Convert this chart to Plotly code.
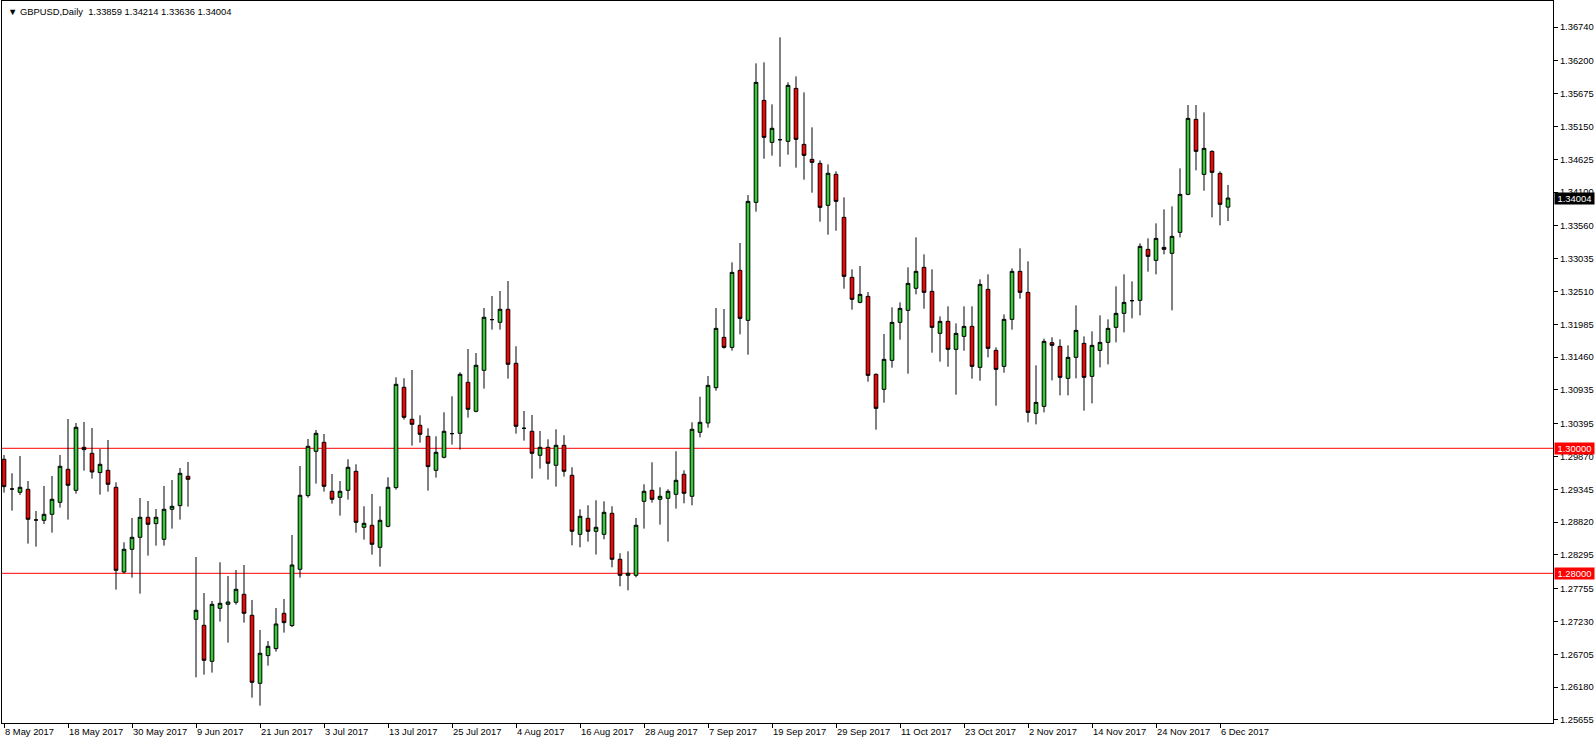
import plotly.graph_objects as go

# ---------------- data (GBPUSD daily, 8 May 2017 - 7 Dec 2017) ----------------
opens = [
    1.29824, 1.29349, 1.29296, 1.29344, 1.28853, 1.28848, 1.28944, 1.29136, 1.29664, 1.29328,
    1.30016, 1.29920, 1.29611, 1.29648, 1.29376, 1.28021, 1.28384, 1.28576, 1.28896, 1.28795,
    1.28544, 1.29024, 1.29083, 1.29552, 1.27264, 1.27168, 1.26592, 1.27440, 1.27504, 1.27536,
    1.27664, 1.27328, 1.26240, 1.26683, 1.26795, 1.27360, 1.27163, 1.28064, 1.29243, 1.29952,
    1.30096, 1.29312, 1.29216, 1.29328, 1.29632, 1.28736, 1.28768, 1.28416, 1.28752, 1.29371,
    1.30976, 1.30464, 1.30368, 1.30192, 1.29648, 1.29856, 1.30235, 1.30240, 1.31056, 1.30592,
    1.31248, 1.32059, 1.32016, 1.32224, 1.31360, 1.30320, 1.30272, 1.29888, 1.30016, 1.29728,
    1.30048, 1.29568, 1.28624, 1.28880, 1.28672, 1.28624, 1.28960, 1.28224, 1.27968, 1.27968,
    1.29152, 1.29328, 1.29184, 1.29200, 1.29264, 1.29584, 1.29232, 1.30256, 1.30405, 1.30970,
    1.31775, 1.31615, 1.32847, 1.32047, 1.33935, 1.35567, 1.34895, 1.34938, 1.34911, 1.35759,
    1.34863, 1.34623, 1.34559, 1.33887, 1.34383, 1.33695, 1.32735, 1.32335, 1.32431, 1.31183,
    1.30943, 1.31407, 1.32015, 1.32207, 1.32560, 1.32895, 1.32511, 1.31839, 1.32031, 1.31583,
    1.31791, 1.31951, 1.31295, 1.32543, 1.31567, 1.31311, 1.32063, 1.32831, 1.32495, 1.30559,
    1.30671, 1.31690, 1.31631, 1.31119, 1.31455, 1.31679, 1.31151, 1.31567, 1.31695, 1.31935,
    1.32159, 1.32362, 1.32367, 1.33183, 1.33007, 1.33215, 1.33119, 1.33455, 1.34063, 1.35263,
    1.34383, 1.34751, 1.34399, 1.33859,
]
highs = [
    1.29893, 1.29600, 1.29877, 1.29477, 1.28997, 1.29397, 1.29557, 1.29893, 1.30469, 1.30405,
    1.30421, 1.30325, 1.29989, 1.30133, 1.29456, 1.28496, 1.28885, 1.29205, 1.29157, 1.29029,
    1.29397, 1.29493, 1.29685, 1.29781, 1.28261, 1.27685, 1.27557, 1.28176, 1.27957, 1.28053,
    1.28133, 1.27573, 1.27093, 1.26917, 1.27445, 1.27590, 1.28613, 1.29717, 1.30149, 1.30293,
    1.30229, 1.29589, 1.29477, 1.29824, 1.29744, 1.29072, 1.29269, 1.29072, 1.29536, 1.31136,
    1.31120, 1.31253, 1.30528, 1.30320, 1.30192, 1.30576, 1.30832, 1.31216, 1.31589, 1.31525,
    1.32245, 1.32437, 1.32517, 1.32677, 1.31632, 1.30597, 1.30533, 1.30277, 1.30144, 1.30304,
    1.30208, 1.29696, 1.29024, 1.29088, 1.29168, 1.29152, 1.29072, 1.28320, 1.28352, 1.28885,
    1.29424, 1.29776, 1.29376, 1.29344, 1.29952, 1.29648, 1.30416, 1.30826, 1.31156, 1.32245,
    1.32229, 1.32975, 1.33285, 1.34052, 1.36159, 1.36175, 1.35503, 1.36575, 1.35855, 1.35951,
    1.35695, 1.35135, 1.34607, 1.34543, 1.34431, 1.34015, 1.32863, 1.32917, 1.32501, 1.31199,
    1.31829, 1.32255, 1.32335, 1.32895, 1.33375, 1.33103, 1.32863, 1.32111, 1.32271, 1.31999,
    1.32271, 1.32271, 1.32703, 1.32783, 1.31615, 1.32143, 1.32879, 1.33199, 1.32991, 1.31327,
    1.31754, 1.31775, 1.31743, 1.31647, 1.32287, 1.31791, 1.31871, 1.32127, 1.32063, 1.32591,
    1.32783, 1.32671, 1.33279, 1.33359, 1.33599, 1.33823, 1.33871, 1.34479, 1.35493, 1.35493,
    1.35375, 1.34767, 1.34431, 1.34214,
]
lows = [
    1.29291, 1.29003, 1.29253, 1.28475, 1.28427, 1.28789, 1.28651, 1.29051, 1.28859, 1.29275,
    1.29643, 1.29515, 1.29259, 1.29307, 1.27739, 1.28000, 1.27931, 1.27675, 1.28283, 1.28443,
    1.28443, 1.28715, 1.28859, 1.29067, 1.26336, 1.26379, 1.26411, 1.27227, 1.26891, 1.27499,
    1.27211, 1.26011, 1.25883, 1.26523, 1.26747, 1.27051, 1.27141, 1.27931, 1.29211, 1.29435,
    1.29307, 1.29115, 1.28923, 1.29179, 1.28651, 1.28539, 1.28299, 1.28107, 1.28736, 1.29339,
    1.30459, 1.30043, 1.30091, 1.29323, 1.29531, 1.29840, 1.30059, 1.29979, 1.30491, 1.30576,
    1.30955, 1.31899, 1.31899, 1.31115, 1.30235, 1.30123, 1.29515, 1.29675, 1.29499, 1.29387,
    1.29547, 1.28448, 1.28416, 1.28507, 1.28300, 1.28544, 1.28096, 1.27792, 1.27728, 1.27936,
    1.28715, 1.29131, 1.28779, 1.28507, 1.29035, 1.29120, 1.29088, 1.30176, 1.30330, 1.30922,
    1.31594, 1.31562, 1.31823, 1.31498, 1.33786, 1.34634, 1.34682, 1.34506, 1.34698, 1.34490,
    1.34298, 1.34090, 1.33626, 1.33418, 1.33482, 1.32554, 1.32218, 1.32320, 1.31066, 1.30298,
    1.30730, 1.31290, 1.31738, 1.31194, 1.32463, 1.32234, 1.31530, 1.31386, 1.31306, 1.30858,
    1.31562, 1.31114, 1.31082, 1.31455, 1.30682, 1.31210, 1.31898, 1.32394, 1.30415, 1.30383,
    1.30575, 1.31087, 1.30847, 1.30847, 1.31119, 1.30602, 1.30719, 1.31295, 1.31343, 1.31695,
    1.31855, 1.32079, 1.32127, 1.32826, 1.32783, 1.33103, 1.32207, 1.33375, 1.34050, 1.34447,
    1.34122, 1.33695, 1.33567, 1.33636,
]
closes = [
    1.29387, 1.29349, 1.29376, 1.28864, 1.28853, 1.28944, 1.29184, 1.29712, 1.29408, 1.30336,
    1.29979, 1.29621, 1.29744, 1.29424, 1.28048, 1.28384, 1.28576, 1.28896, 1.28784, 1.28896,
    1.29024, 1.29072, 1.29600, 1.29504, 1.27408, 1.26608, 1.27504, 1.27520, 1.27541, 1.27744,
    1.27360, 1.26256, 1.26720, 1.26832, 1.27189, 1.27211, 1.28133, 1.29248, 1.30032, 1.30240,
    1.29392, 1.29184, 1.29312, 1.29696, 1.28816, 1.28800, 1.28464, 1.28848, 1.29376, 1.31024,
    1.30496, 1.30384, 1.30224, 1.29707, 1.29936, 1.30272, 1.30235, 1.31184, 1.30624, 1.31328,
    1.32096, 1.32059, 1.32224, 1.31344, 1.30352, 1.30320, 1.29920, 1.30016, 1.29760, 1.30048,
    1.29632, 1.28672, 1.28912, 1.28672, 1.28736, 1.28976, 1.28224, 1.27968, 1.28000, 1.28768,
    1.29312, 1.29184, 1.29232, 1.29312, 1.29488, 1.29280, 1.30304, 1.30416, 1.31007, 1.31919,
    1.31615, 1.32815, 1.32079, 1.33951, 1.35855, 1.34975, 1.35120, 1.34938, 1.35807, 1.34943,
    1.34687, 1.34575, 1.33855, 1.34400, 1.33951, 1.32751, 1.32383, 1.32463, 1.31167, 1.30639,
    1.31423, 1.32015, 1.32239, 1.32639, 1.32831, 1.32495, 1.31935, 1.32031, 1.31583, 1.31839,
    1.31951, 1.31311, 1.32623, 1.31599, 1.31263, 1.32063, 1.32831, 1.32495, 1.30575, 1.30735,
    1.31711, 1.31647, 1.31135, 1.31455, 1.31887, 1.31135, 1.31647, 1.31695, 1.31919, 1.32159,
    1.32335, 1.32362, 1.33231, 1.33071, 1.33359, 1.33183, 1.33391, 1.34063, 1.35279, 1.34751,
    1.34799, 1.34415, 1.33903, 1.34004,
]

date_labels = [
    "8 May 2017", "18 May 2017", "30 May 2017", "9 Jun 2017", "21 Jun 2017",
    "3 Jul 2017", "13 Jul 2017", "25 Jul 2017", "4 Aug 2017", "16 Aug 2017",
    "28 Aug 2017", "7 Sep 2017", "19 Sep 2017", "29 Sep 2017", "11 Oct 2017",
    "23 Oct 2017", "2 Nov 2017", "14 Nov 2017", "24 Nov 2017", "6 Dec 2017",
]
bars_per_label = 8

price_labels = [
    1.36740, 1.36200, 1.35675, 1.35150, 1.34625, 1.34100, 1.33560, 1.33035,
    1.32510, 1.31985, 1.31460, 1.30935, 1.30395, 1.29870, 1.29345, 1.28820,
    1.28295, 1.27755, 1.27230, 1.26705, 1.26180, 1.25655,
]
hlines = [1.30000, 1.28000]

symbol = "GBPUSD,Daily"

# ---------------- figure ----------------
bar_pos = list(range(len(opens)))
tick_pos = [i * bars_per_label for i in range(len(date_labels))]

FONT = "Tahoma, Liberation Sans, Arial, sans-serif"
FS = 9.4

fig = go.Figure()
fig.add_trace(go.Candlestick(
    x=bar_pos, open=opens, high=highs, low=lows, close=closes,
    increasing=dict(fillcolor="#32CD32", line=dict(color="black", width=1)),
    decreasing=dict(fillcolor="#FF0000", line=dict(color="black", width=1)),
    whiskerwidth=0,
    hoverinfo="skip",
))

for lv in hlines:
    fig.add_shape(type="line", xref="paper", x0=0, x1=1, yref="y", y0=lv, y1=lv,
                  line=dict(color="#FF0000", width=1), layer="below")
    fig.add_annotation(xref="paper", x=1, xanchor="left", xshift=1, yref="y", y=lv,
                       text=f"{lv:.5f}", showarrow=False, bgcolor="#FF0000",
                       font=dict(family=FONT, size=FS, color="white"),
                       width=39, height=11, borderpad=0)

last = closes[-1]
fig.add_annotation(xref="paper", x=1, xanchor="left", xshift=1, yref="y", y=last,
                   text=f"{last:.5f}", showarrow=False, bgcolor="black",
                   font=dict(family=FONT, size=FS, color="white"),
                   width=39, height=11, borderpad=0)

header = ("\u25BC " + symbol + "\u00a0\u00a0" +
          " ".join(f"{v:.5f}" for v in (opens[-1], highs[-1], lows[-1], closes[-1])))
fig.add_annotation(xref="paper", yref="paper", x=0, y=1, xanchor="left", yanchor="top",
                   xshift=4, yshift=-3, text=header, showarrow=False,
                   font=dict(family=FONT, size=FS, color="black"))

W, H = 1596, 744
ml, mr, mt, mb = 2, 43, 1, 21
px_per_bar = 8.0
x0 = -0.25
x1 = x0 + (W - ml - mr) / px_per_bar
px_per_unit = 6250.0
y_top = 1.30 + (448.3 - mt) / px_per_unit
y_bot = 1.30 - (H - mb - 448.3) / px_per_unit

fig.update_layout(
    width=W, height=H,
    margin=dict(l=ml, r=mr, t=mt, b=mb, pad=0),
    paper_bgcolor="white", plot_bgcolor="white",
    showlegend=False,
    boxgap=0.35,
    font=dict(family=FONT, size=FS, color="black"),
    xaxis=dict(
        range=[x0, x1], rangeslider=dict(visible=False),
        tickmode="array", tickvals=tick_pos, ticktext=date_labels,
        ticks="outside", ticklen=4, tickcolor="black", tickwidth=1,
        ticklabelposition="outside right",
        showgrid=False, zeroline=False,
        showline=True, linecolor="black", linewidth=1, mirror=True,
        tickfont=dict(family=FONT, size=FS, color="black"),
    ),
    yaxis=dict(
        range=[y_bot, y_top], side="right",
        tickmode="array", tickvals=price_labels,
        ticktext=[f"{v:.5f}" for v in price_labels],
        ticks="outside", ticklen=4, tickcolor="black", tickwidth=1,
        showgrid=False, zeroline=False,
        showline=True, linecolor="black", linewidth=1, mirror=True,
        tickfont=dict(family=FONT, size=FS, color="black"),
    ),
)

fig.write_html("out.html",
               config={"displayModeBar": False},
               post_script="document.body.style.margin='0';document.body.style.overflow='hidden';")
